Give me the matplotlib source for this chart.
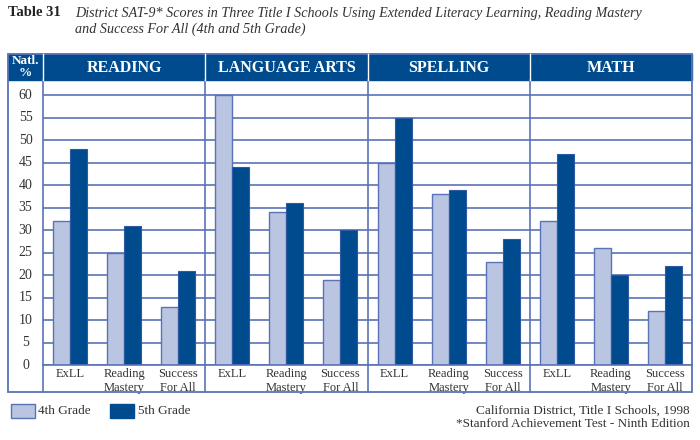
import matplotlib
matplotlib.use("Agg")
import matplotlib.pyplot as plt
from matplotlib.patches import Rectangle
from matplotlib.transforms import blended_transform_factory
import numpy as np

subjects = ["READING", "LANGUAGE ARTS", "SPELLING", "MATH"]
programs = ["ExLL", "Reading\nMastery", "Success\nFor All"]
grade4 = [32, 25, 13, 60, 34, 19, 45, 38, 23, 32, 26, 12]
grade5 = [48, 31, 21, 44, 36, 30, 55, 39, 28, 47, 20, 22]
yticks = list(range(0, 61, 5))
series_names = ["4th Grade", "5th Grade"]

DARK = "#004b8d"
LIGHT = "#bac5e1"
LINE = "#5a72b6"
TXT = "#333333"
SERIF = ["Liberation Serif", "DejaVu Serif"]
plt.rcParams["font.family"] = SERIF

W, H = 700, 440
fig = plt.figure(figsize=(7, 4.4), dpi=100)

def fx(x):
    return x / W

def fy(y):
    return 1 - y / H

L, R, TOP, ZERO, BOT = 43, 692, 80, 365, 392
FL, FT = 8, 54

ax = fig.add_axes([fx(L), fy(ZERO), fx(R - L), (ZERO - TOP) / H])
ax.set_xlim(0, 12)
ax.set_ylim(0, (ZERO - TOP) / 4.5)

ncat = len(programs)
centers = np.array([p * 3 + i + 0.5 for p in range(len(subjects)) for i in range(ncat)])
bw = 0.315
ax.bar(centers - bw / 2, grade4, bw, color=LIGHT, edgecolor=LINE, linewidth=1.0, zorder=3,
       label=series_names[0])
ax.bar(centers + bw / 2, grade5, bw, color=DARK, edgecolor="#2f5aa3", linewidth=0.8, zorder=3,
       label=series_names[1])

ax.set_yticks(yticks)
ax.yaxis.grid(True, color=LINE, linewidth=1.2, zorder=0)
ax.set_axisbelow(True)
ax.tick_params(axis="y", length=0, labelleft=False)
ax.set_xticks(centers)
ax.set_xticklabels(programs * len(subjects), fontsize=9, color=TXT, linespacing=1.25)
ax.tick_params(axis="x", length=0, pad=2)
for s in ax.spines.values():
    s.set_visible(False)

# y tick labels centred in the left column
tr = blended_transform_factory(fig.transFigure, ax.transData)
for v in yticks:
    ax.text(fx(25.5), v, str(v), transform=tr, ha="center", va="center",
            fontsize=10, color=TXT, clip_on=False)

# overlay for frame, header, legend
ov = fig.add_axes([0, 0, 1, 1])
ov.set_xlim(0, W)
ov.set_ylim(H, 0)
ov.axis("off")
ov.patch.set_visible(False)

# zero line across panels
ov.plot([L, R], [ZERO, ZERO], color=LINE, lw=1.2)
# header band
ov.add_patch(Rectangle((FL, FT), R - FL, TOP - FT, facecolor=DARK, edgecolor=DARK, lw=1))
# frame
ov.add_patch(Rectangle((FL, FT), R - FL, BOT - FT, facecolor="none", edgecolor=LINE, lw=1.3))
# column dividers
pw = (R - L) / len(subjects)
divs = [L] + [L + k * pw for k in range(1, len(subjects))]
for x in divs:
    ov.plot([x, x], [TOP, BOT], color=LINE, lw=1.2)
    ov.plot([x, x], [FT, TOP], color="white", lw=1.0)

ov.text(25.5, 67, "Natl.\n%", ha="center", va="center", color="white",
        fontsize=9.5, fontweight="bold", linespacing=0.95)
for k, s in enumerate(subjects):
    ov.text(L + (k + 0.5) * pw, 68, s, ha="center", va="center", color="white",
            fontsize=11.5, fontweight="bold")

# title
ov.text(8, 13, "Table 31", ha="left", va="center", fontsize=10.5, fontweight="bold", color="#222222")
ov.text(75, 13, "District SAT-9* Scores in Three Title I Schools Using Extended Literacy Learning, Reading Mastery",
        ha="left", va="center", fontsize=10.2, style="italic", color=TXT)
ov.text(75, 29, "and Success For All (4th and 5th Grade)",
        ha="left", va="center", fontsize=10.2, style="italic", color=TXT)

# legend
ov.add_patch(Rectangle((11, 404), 24, 14, facecolor=LIGHT, edgecolor=LINE, lw=1))
ov.text(38, 411, series_names[0], ha="left", va="center", fontsize=9.5, color=TXT)
ov.add_patch(Rectangle((110, 404), 24, 14, facecolor=DARK, edgecolor=DARK, lw=1))
ov.text(138, 411, series_names[1], ha="left", va="center", fontsize=9.5, color=TXT)

ov.text(690, 411, "California District, Title I Schools, 1998", ha="right", va="center",
        fontsize=9.5, color=TXT)
ov.text(690, 424, "*Stanford Achievement Test - Ninth Edition", ha="right", va="center",
        fontsize=9.5, color=TXT)

fig.savefig("out.png", dpi=100, facecolor="white")
